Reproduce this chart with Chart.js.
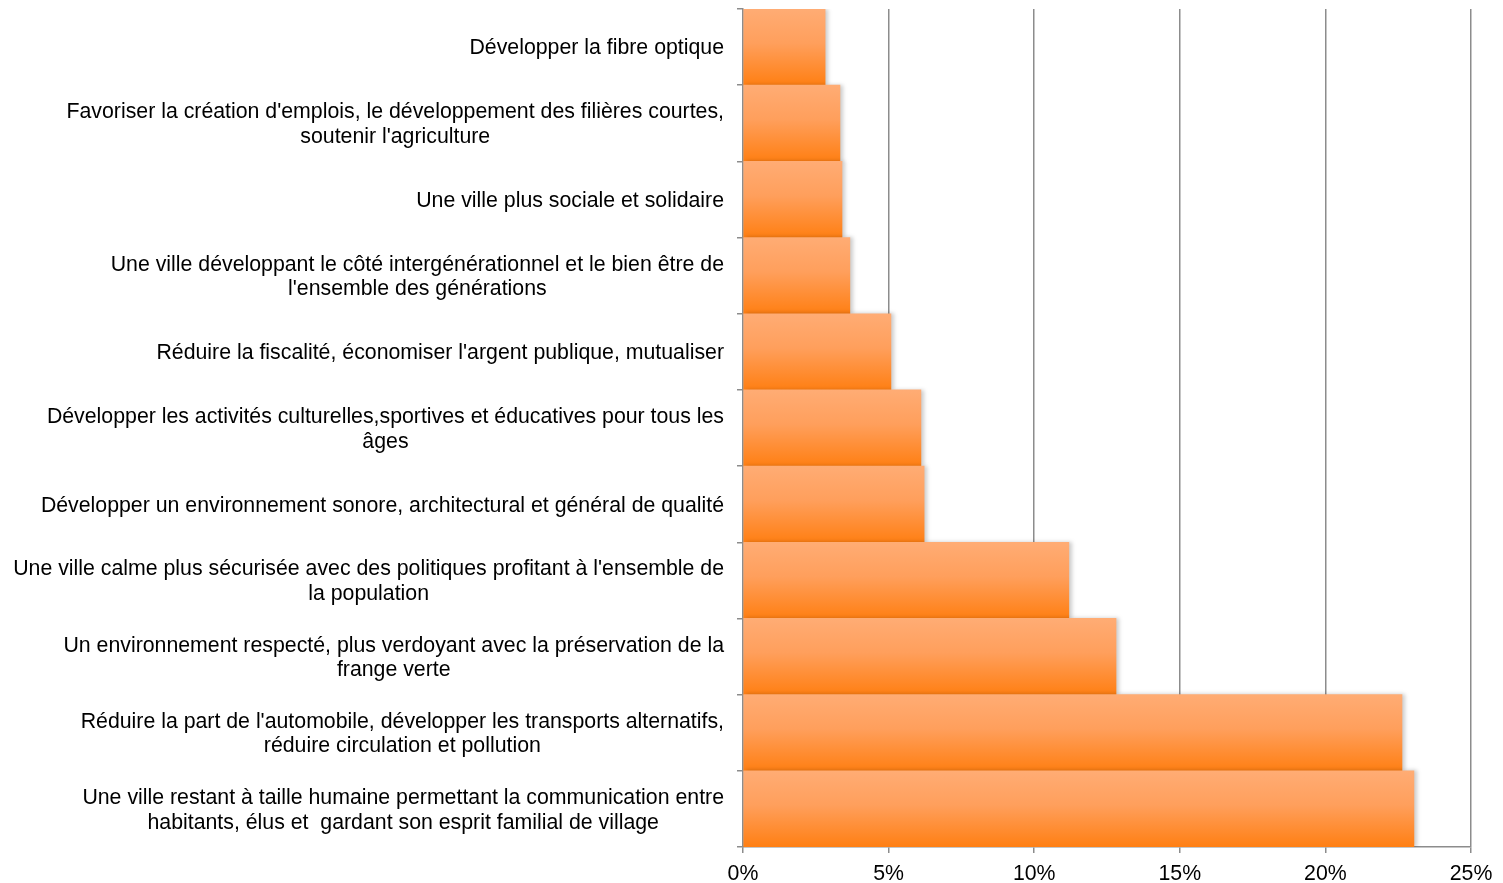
<!DOCTYPE html>
<html>
<head>
<meta charset="utf-8">
<script src="https://cdn.jsdelivr.net/npm/chart.js@4.4.1/dist/chart.umd.min.js"></script>
<style>
  html, body { margin: 0; padding: 0; background: #fff; }
  #wrap { width: 1503px; height: 883px; }
</style>
</head>
<body>
<div id="wrap"><canvas id="chart"></canvas></div>
<script>
// categories, top to bottom
const categories = [
  ['Développer la fibre optique'],
  ["Favoriser la création d'emplois, le développement des filières courtes,", "soutenir l'agriculture"],
  ['Une ville plus sociale et solidaire'],
  ["Une ville développant le côté intergénérationnel et le bien être de", "l'ensemble des générations"],
  ["Réduire la fiscalité, économiser l'argent publique, mutualiser"],
  ["Développer les activités culturelles,sportives et éducatives pour tous les", "âges"],
  ['Développer un environnement sonore, architectural et général de qualité'],
  ["Une ville calme plus sécurisée avec des politiques profitant à l'ensemble de", "la population"],
  ['Un environnement respecté, plus verdoyant avec la préservation de la', 'frange verte'],
  ["Réduire la part de l'automobile, développer les transports alternatifs,", 'réduire circulation et pollution'],
  ['Une ville restant à taille humaine permettant la communication entre', 'habitants, élus et  gardant son esprit familial de village']
];

// share of answers, in %
const shares = [2.82, 3.33, 3.40, 3.67, 5.08, 6.11, 6.22, 11.19, 12.81, 22.63, 23.04];

const xTicks = [0, 5, 10, 15, 20, 25];

const FAMILY = '"Liberation Sans", Arial, sans-serif';
const FONT = '21.3px ' + FAMILY;
const GRID = '#8c8c8c';

// vertical orange gradient per bar
function barFill(ctx) {
  const chart = ctx.chart;
  const y = chart.scales.y;
  if (!chart.chartArea || !y || ctx.dataIndex === undefined) return '#ff9a4a';
  const c = y.getPixelForValue(ctx.dataIndex);
  const half = y.height / categories.length / 2;
  const g = chart.ctx.createLinearGradient(0, c - half, 0, c + half);
  g.addColorStop(0, '#ffac74');
  g.addColorStop(0.45, '#ff9f5c');
  g.addColorStop(1, '#ff7f13');
  return g;
}

// right-aligned blocks of centred lines, like the original
const labelPlugin = {
  id: 'blockLabels',
  afterDraw(chart) {
    const y = chart.scales.y;
    const ctx = chart.ctx;
    ctx.save();
    ctx.font = FONT;
    ctx.fillStyle = '#000';
    ctx.textAlign = 'center';
    ctx.textBaseline = 'middle';
    const right = y.right - 19;
    const lh = 24.5;
    categories.forEach((lines, i) => {
      const c = y.getPixelForValue(i) + 1.5;
      const w = Math.max(...lines.map(l => ctx.measureText(l).width));
      const cx = right - w / 2;
      const top = c - (lines.length - 1) * lh / 2;
      lines.forEach((l, k) => ctx.fillText(l, cx, top + k * lh));
    });
    ctx.restore();
  }
};

const shadowPlugin = {
  id: 'barShadow',
  beforeDatasetsDraw(chart) {
    const ctx = chart.ctx;
    ctx.save();
    ctx.shadowColor = 'rgba(0,0,0,0.2)';
    ctx.shadowBlur = 4;
    ctx.shadowOffsetX = 3;
    ctx.shadowOffsetY = 0;
  },
  afterDatasetsDraw(chart) {
    chart.ctx.restore();
  }
};

new Chart(document.getElementById('chart'), {
  type: 'bar',
  data: {
    labels: categories,
    datasets: [{
      data: shares,
      backgroundColor: barFill,
      borderWidth: 0,
      barPercentage: 1,
      categoryPercentage: 1
    }]
  },
  options: {
    indexAxis: 'y',
    responsive: true,
    maintainAspectRatio: false,
    animation: false,
    layout: { padding: { top: 9, right: 32, left: 0, bottom: 0 } },
    plugins: {
      legend: { display: false },
      tooltip: { enabled: false }
    },
    scales: {
      x: {
        min: 0,
        max: 25,
        afterBuildTicks(scale) {
          scale.ticks = xTicks.map(v => ({ value: v }));
        },
        afterFit(scale) { scale.height = 36; },
        grid: { color: GRID, lineWidth: 1.5, tickLength: 6, drawTicks: true },
        border: { display: true, color: GRID, width: 1.5 },
        ticks: {
          color: '#000',
          font: { family: FAMILY, size: 21.3 },
          padding: 8,
          maxRotation: 0,
          callback: v => v + '%'
        }
      },
      y: {
        afterFit(scale) { scale.width = 743; },
        grid: { offset: true, drawOnChartArea: false, drawTicks: true, tickLength: 6, color: GRID, lineWidth: 1.5 },
        border: { display: true, color: GRID, width: 1.5 },
        ticks: { display: false }
      }
    }
  },
  plugins: [shadowPlugin, labelPlugin]
});
</script>
</body>
</html>
